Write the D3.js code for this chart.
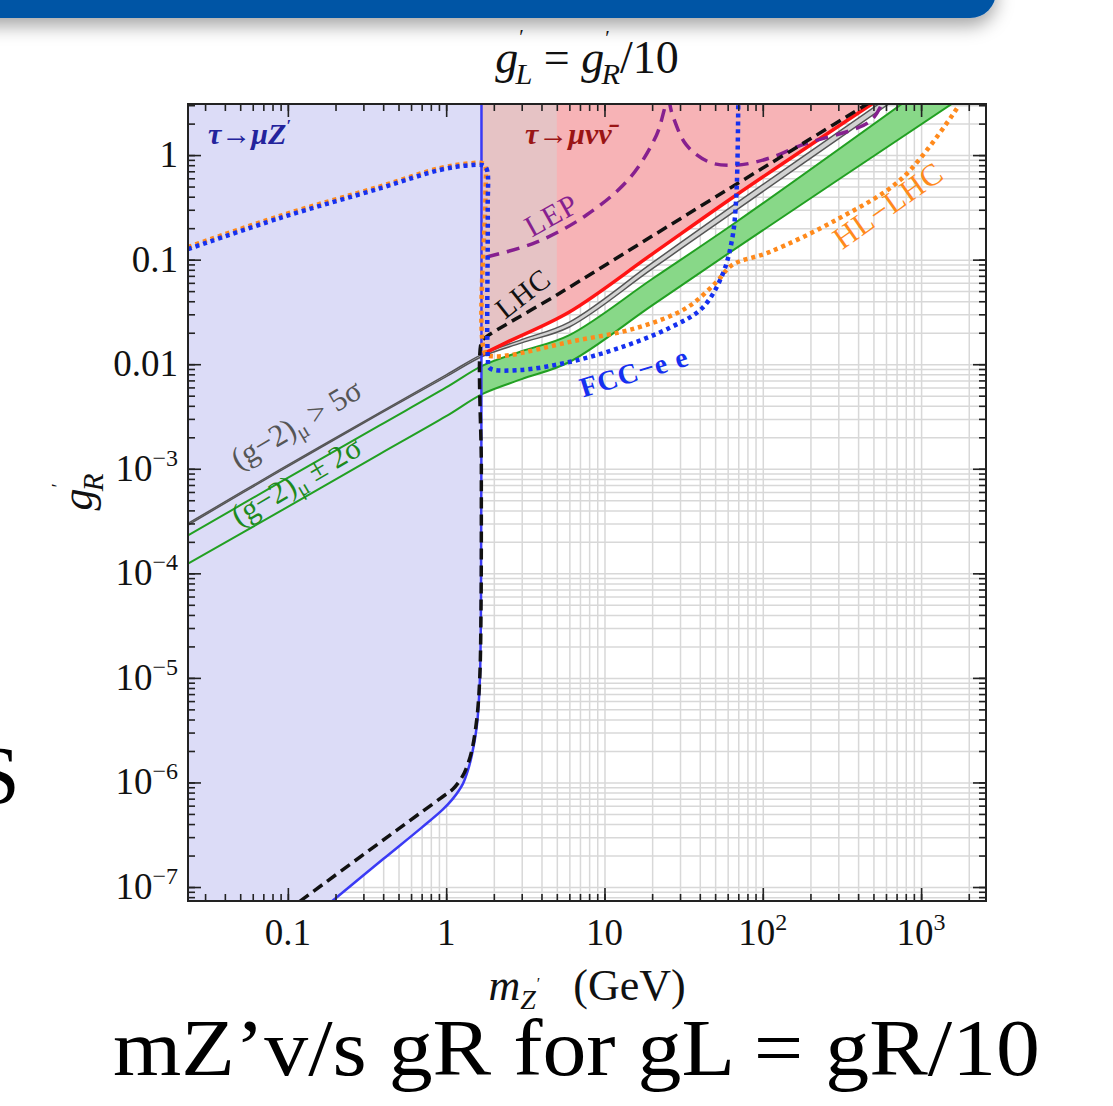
<!DOCTYPE html>
<html>
<head>
<meta charset="utf-8">
<script src="https://cdn.jsdelivr.net/npm/d3@7"></script>
<style>
body { margin: 0; background: #fff; }
text { font-family: "Liberation Serif", "DejaVu Serif", serif; }
</style>
</head>
<body>
<svg id="chart" width="1113" height="1106"></svg>
<script>
var svg = d3.select('#chart');
var L = 188, R = 986, T = 104, B = 901;

// axis ranges (GeV, coupling)
var xMin = 0.0234, xMax = 2570, yMin = 7.35e-8, yMax = 3.08;
var mTauMinusMu = 1.671, pinkSplit = 5;

var xTickVals = [0.1, 1, 10, 100, 1000];
var xTickLabels = ['0.1', '1', '10', '10^2', '10^3'];
var yTickVals = [1, 0.1, 0.01, 1e-3, 1e-4, 1e-5, 1e-6, 1e-7];
var yTickLabels = ['1', '0.1', '0.01', '10^-3', '10^-4', '10^-5', '10^-6', '10^-7'];

// curves as [m_Z', g'_R]
var tauMuZ = [[0.19,7.3e-8],[0.4,1.85e-7],[0.7,3.7e-7],[0.95,5.5e-7],[1.10,6.97e-7],[1.27,9.6e-7],
  [1.37,1.3e-6],[1.45,1.8e-6],[1.56,3.4e-6],[1.63,9e-6],[1.66,5.6e-5],[1.668,1e-3],[1.671,0.05],[1.671,3.3]];
var lhc = [[0.119,7.3e-8],[0.5,3.6e-7],[0.95,7.3e-7],[1.10,8.6e-7],[1.27,1.15e-6],[1.37,1.5e-6],
  [1.45,2.0e-6],[1.56,4e-6],[1.63,1e-5],[1.662,6e-5],[1.668,1e-3],[1.672,0.0165],[1.75,0.0178],
  [5,0.046],[20,0.168],[70,0.54],[200,1.43],[470,3.17]];
var redLine = [[1.70,0.0125],[2.5,0.0166],[6,0.0316],[20,0.113],[68,0.415],[491,3.1]];
var grayUpper = [[0.0234,3.0e-4],[0.089,9.8e-4],[0.38,3.45e-3],[1.0,7.9e-3],[1.7,0.0125],[3,0.0172],
  [6,0.0253],[20,0.093],[68,0.348],[543,3.1]];
var grayLower = [[0.0234,2.9e-4],[0.089,9.5e-4],[0.38,3.35e-3],[1.0,7.6e-3],[1.7,0.0119],[3,0.0160],
  [6,0.0227],[20,0.0815],[68,0.298],[628,3.1]];
var greenUpper = [[0.0234,2.3e-4],[0.089,7.4e-4],[0.38,2.6e-3],[1.0,6.0e-3],[1.7,0.0097],[3,0.0133],
  [6,0.019],[20,0.0653],[68,0.229],[759,3.1]];
var greenLower = [[0.0234,1.24e-4],[0.089,3.91e-4],[0.38,1.38e-3],[1.0,3.18e-3],[1.7,5.2e-3],[3,7.2e-3],
  [6,0.0105],[20,0.0365],[68,0.129],[1570,3.1]];
var lep = [[1.80,0.106],[3.72,0.147],[7.7,0.267],[14.4,0.60],[21.3,1.55],[25.2,3.3],[26.9,2.41],
  [32.9,1.25],[45.9,0.857],[68,0.80],[110,0.935],[177,1.25],[470,2.07],[560,3.0]];
var hlLhc = [[0.0234,0.132],[0.089,0.262],[0.38,0.50],[0.91,0.75],[1.41,0.835],[1.70,0.835],
  [1.76,0.80],[1.77,0.4],[1.775,0.0125],[2.0,0.0119],[2.52,0.0122],[6.0,0.0163],[15.9,0.0222],
  [32.9,0.0345],[50.9,0.061],[64.2,0.089],[110,0.118],[291,0.24],[759,0.6],[1738,3.0]];
var fccee = [[0.0234,0.126],[0.089,0.25],[0.38,0.48],[0.91,0.72],[1.41,0.80],[1.70,0.80],
  [1.80,0.74],[1.83,0.3],[1.835,0.0115],[1.88,0.0092],[2.91,0.0088],[6.0,0.0105],[12.4,0.0143],
  [25.7,0.0222],[41.5,0.0345],[55.5,0.0713],[64.2,0.161],[68.1,0.415],[70,3.3]];

var x = d3.scaleLog().domain([xMin, xMax]).range([L, R]);
var y = d3.scaleLog().domain([yMin, yMax]).range([B, T]);

var line = d3.line().x(d => x(d[0])).y(d => y(d[1])).curve(d3.curveCatmullRom.alpha(0.5));

var defs = svg.append('defs');
defs.append('clipPath').attr('id', 'plot').append('rect')
  .attr('x', L).attr('y', T).attr('width', R - L).attr('height', B - T);
defs.append('clipPath').attr('id', 'beyond').append('rect')
  .attr('x', x(mTauMinusMu)).attr('y', T).attr('width', R - x(mTauMinusMu)).attr('height', B - T);
defs.append('clipPath').attr('id', 'pinkleft').append('rect')
  .attr('x', x(mTauMinusMu)).attr('y', T).attr('width', x(pinkSplit) - x(mTauMinusMu)).attr('height', B - T);
var f = defs.append('filter').attr('id', 'shadow').attr('x', -0.1).attr('y', -1).attr('width', 1.3).attr('height', 3);
f.append('feDropShadow').attr('dx', 0).attr('dy', 8).attr('stdDeviation', 9)
  .attr('flood-color', '#000').attr('flood-opacity', 0.35);

// slide header bar + stray slide letter
svg.append('rect').attr('x', -40).attr('y', -40).attr('width', 1036).attr('height', 58)
  .attr('rx', 26).attr('fill', '#0055a5').attr('filter', 'url(#shadow)');
svg.append('text').attr('x', -26).attr('y', 803).attr('font-size', 82).attr('fill', '#000').text('S');

// grid
var xt = x.ticks(), yt = y.ticks();
svg.append('g').attr('transform', 'translate(0,' + B + ')')
  .call(d3.axisBottom(x).tickValues(xt).tickSize(-(B - T)).tickFormat(''))
  .call(g => g.select('.domain').remove())
  .selectAll('line').attr('stroke', '#d8d8d8').attr('stroke-width', 1.5);
svg.append('g').attr('transform', 'translate(' + L + ',0)')
  .call(d3.axisLeft(y).tickValues(yt).tickSize(-(R - L)).tickFormat(''))
  .call(g => g.select('.domain').remove())
  .selectAll('line').attr('stroke', '#d8d8d8').attr('stroke-width', 1.5);

var plot = svg.append('g').attr('clip-path', 'url(#plot)');

function band(up, lo) {
  return line(up) + 'L' + line(lo.slice().reverse()).substring(1) + 'Z';
}

var fills = plot.append('g').attr('clip-path', 'url(#beyond)');
fills.append('path').attr('d', band(greenUpper, greenLower)).attr('fill', '#88d888');
fills.append('path').attr('d', band(grayUpper, grayLower)).attr('fill', '#d2d2d2');

// tau -> mu Z' region
plot.append('path')
  .attr('d', 'M' + x(xMin) + ',' + y(yMin) + 'L' + line(tauMuZ).substring(1) + 'L' + x(xMin) + ',' + (T - 20) + 'Z')
  .attr('fill', '#dcdcf7');

// tau -> mu nu nu region
var pinkPath = 'M' + x(mTauMinusMu) + ',' + (T - 20) + 'L' + x(mTauMinusMu) + ',' + y(redLine[0][1]) +
  'L' + line(redLine).substring(1) + 'L' + x(redLine[redLine.length - 1][0]) + ',' + (T - 20) + 'Z';
plot.append('path').attr('d', pinkPath).attr('fill', '#f7b3b6');
plot.append('g').attr('clip-path', 'url(#pinkleft)')
  .append('path').attr('d', pinkPath).attr('fill', '#e6c3c5');

function curve(data, color, width, dash) {
  plot.append('path').datum(data)
    .attr('d', line)
    .attr('fill', 'none')
    .attr('stroke', color)
    .attr('stroke-width', width)
    .attr('stroke-dasharray', dash || null);
}

curve(greenUpper, '#22a022', 2);
curve(greenLower, '#22a022', 2);
curve(grayUpper, '#555', 1.5);
curve(grayLower, '#555', 1.5);
curve(redLine, '#ff1414', 3.5);
curve(lep, '#86208f', 3.5, '13,8');
curve(tauMuZ, '#3a3af5', 2.5);
curve(lhc, '#111', 3.5, '11,6');
curve(hlLhc, '#ff8a1c', 4.5, '4,4');
curve(fccee, '#1530f0', 4.5, '4,4');

// frame and ticks
var majX = xt.filter(v => Math.abs(Math.log10(v) - Math.round(Math.log10(v))) < 1e-9);
var majY = yt.filter(v => Math.abs(Math.log10(v) - Math.round(Math.log10(v))) < 1e-9);
function ticks(axis, pos, vals, size) {
  svg.append('g').attr('transform', pos)
    .call(axis.tickValues(vals).tickSize(-size).tickFormat('').tickSizeOuter(0))
    .call(g => g.select('.domain').remove())
    .selectAll('line').attr('stroke', '#222').attr('stroke-width', 1.6);
}
ticks(d3.axisBottom(x), 'translate(0,' + B + ')', xt, 7);
ticks(d3.axisBottom(x), 'translate(0,' + B + ')', majX, 13);
ticks(d3.axisTop(x), 'translate(0,' + T + ')', xt, 7);
ticks(d3.axisTop(x), 'translate(0,' + T + ')', majX, 13);
ticks(d3.axisLeft(y), 'translate(' + L + ',0)', yt, 7);
ticks(d3.axisLeft(y), 'translate(' + L + ',0)', majY, 13);
ticks(d3.axisRight(y), 'translate(' + R + ',0)', yt, 7);
ticks(d3.axisRight(y), 'translate(' + R + ',0)', majY, 13);
svg.append('rect').attr('x', L).attr('y', T).attr('width', R - L).attr('height', B - T)
  .attr('fill', 'none').attr('stroke', '#222').attr('stroke-width', 2);

function powLabel(t, s) {
  var m = s.match(/^(.*)\^(.*)$/);
  if (m) {
    t.append('tspan').text(m[1]);
    t.append('tspan').attr('dy', -15).attr('font-size', 24).text(m[2].replace('-', '\u2212'));
  } else t.text(s);
}
xTickVals.forEach(function(v, i) {
  var t = svg.append('text').attr('x', x(v)).attr('y', 945).attr('text-anchor', 'middle')
    .attr('font-size', 37).attr('fill', '#111');
  powLabel(t, xTickLabels[i]);
});
yTickVals.forEach(function(v, i) {
  var t = svg.append('text').attr('x', 178).attr('y', y(v) + 12).attr('text-anchor', 'end')
    .attr('font-size', 37).attr('fill', '#111');
  powLabel(t, yTickLabels[i]);
});

// titles
function gPrime(t, sub, size) {
  t.append('tspan').attr('font-style', 'italic').text('g');
  t.append('tspan').attr('font-size', size * 0.45).attr('dy', -size * 0.62).attr('dx', 1).text('\u2032');
  t.append('tspan').attr('font-size', size * 0.66).attr('font-style', 'italic')
    .attr('dy', size * 0.86).attr('dx', -size * 0.18).text(sub);
}
var title = svg.append('text').attr('x', 587).attr('y', 73).attr('text-anchor', 'middle')
  .attr('font-size', 46).attr('fill', '#111');
gPrime(title, 'L', 46);
title.append('tspan').attr('dy', -11).text(' = ');
gPrime(title, 'R', 46);
title.append('tspan').attr('dy', -11).text('/10');

var ylab = svg.append('text').attr('transform', 'translate(92,492) rotate(-90)').attr('text-anchor', 'middle')
  .attr('font-size', 44).attr('fill', '#111');
gPrime(ylab, 'R', 44);

var xlab = svg.append('text').attr('x', 587).attr('y', 1000).attr('text-anchor', 'middle')
  .attr('font-size', 44).attr('fill', '#111');
xlab.append('tspan').attr('font-style', 'italic').text('m');
xlab.append('tspan').attr('font-size', 28).attr('font-style', 'italic').attr('dy', 9).text('Z');
xlab.append('tspan').attr('font-size', 16).attr('dy', -20).attr('dx', 1).text('\u2032');
xlab.append('tspan').attr('dy', 11).text('\u2002 (GeV)');

svg.append('text').attr('x', 113).attr('y', 1075).attr('font-size', 80).attr('fill', '#000')
  .attr('textLength', 927).attr('lengthAdjust', 'spacingAndGlyphs')
  .text('mZ\u2019v/s gR for gL = gR/10');

// in-plot labels
var t1 = plot.append('text').attr('x', 208).attr('y', 144).attr('font-size', 30)
  .attr('font-weight', 'bold').attr('font-style', 'italic').attr('fill', '#23239c');
t1.append('tspan').text('\u03c4\u2192\u03bcZ');
t1.append('tspan').attr('font-size', 17).attr('dy', -13).text('\u2032');
plot.append('text').attr('x', 525).attr('y', 144).attr('font-size', 30)
  .attr('font-weight', 'bold').attr('font-style', 'italic').attr('fill', '#9a1515')
  .text('\u03c4\u2192\u03bc\u03bd\u03bd\u0304');

function rotLabel(cx, cy, ang, color, size, txt, bold) {
  return plot.append('text').attr('transform', 'translate(' + cx + ',' + cy + ') rotate(' + ang + ')')
    .attr('text-anchor', 'middle').attr('dominant-baseline', 'middle')
    .attr('font-size', size).attr('fill', color).attr('font-weight', bold ? 'bold' : null)
    .attr('letter-spacing', 1).text(txt);
}
rotLabel(553, 218, -29, '#86208f', 30, 'LEP');
rotLabel(525, 296, -38, '#111', 29, 'LHC');
rotLabel(635, 375, -17, '#1530f0', 28, 'FCC\u2212e e', true);
rotLabel(890, 208, -35, '#ff8a1c', 31, 'HL\u2212LHC');

function g2Label(cx, cy, color, rest) {
  var t = plot.append('text').attr('transform', 'translate(' + cx + ',' + cy + ') rotate(-30.5)')
    .attr('text-anchor', 'middle').attr('dominant-baseline', 'middle')
    .attr('font-size', 31).attr('fill', color);
  t.append('tspan').text('(g\u22122)');
  t.append('tspan').attr('font-size', 21).attr('dy', 8).text('\u03bc');
  t.append('tspan').attr('dy', -8).text(rest);
}
g2Label(298, 427, '#555', ' > 5\u03c3');
g2Label(298, 484, '#1d8a1d', ' \u00b1 2\u03c3');
</script>
</body>
</html>
